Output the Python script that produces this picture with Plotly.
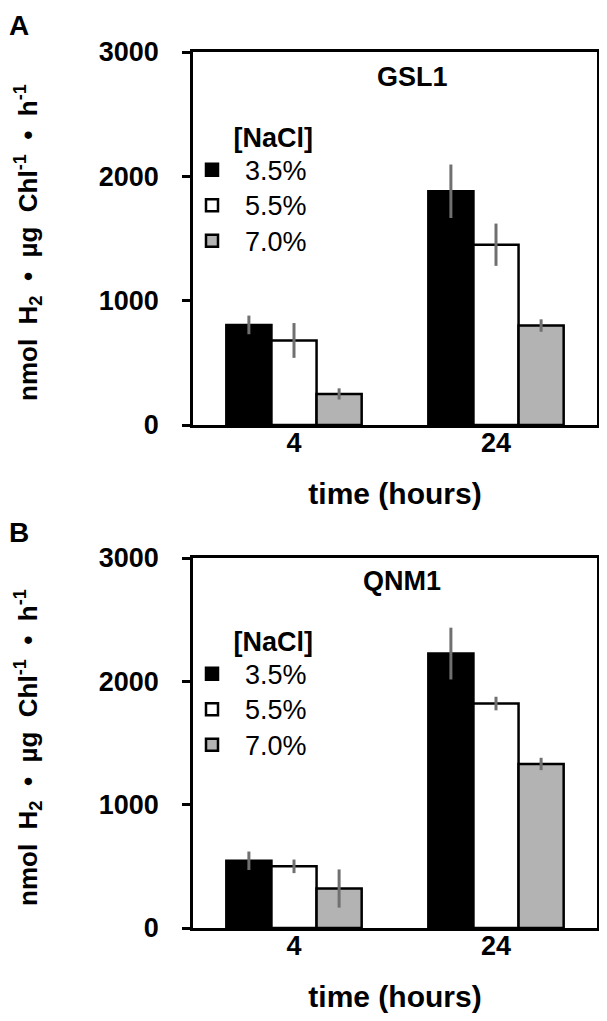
import plotly.graph_objects as go

# data
times = ["4", "24"]
salts = ["3.5%", "5.5%", "7.0%"]
colors = ["#000000", "#ffffff", "#b3b3b3"]

gsl1_vals = [[805, 1880], [680, 1450], [250, 800]]
gsl1_err = [[75, 215], [140, 170], [45, 50]]

qnm1_vals = [[545, 2225], [500, 1820], [320, 1330]]
qnm1_err = [[75, 210], [55, 55], [155, 50]]

FONT = "Liberation Sans, Arial, sans-serif"

# the page body adds an 8px margin, so the figure is made 8px smaller
W, H, OFF = 599, 1013, 8


def px(x):
    return (x - OFF) / W


def py(y):
    return 1 - (y - OFF) / H


fig = go.Figure()

panels = [("x", "y", "legend", gsl1_vals, gsl1_err),
          ("x2", "y2", "legend2", qnm1_vals, qnm1_err)]

for xa, ya, lg, vals, errs in panels:
    for i in range(3):
        fig.add_trace(go.Bar(
            x=times, y=vals[i],
            name="<span style='font-size:27px'>" + salts[i] + "</span>",
            xaxis=xa, yaxis=ya, legend=lg,
            marker=dict(color=colors[i], line=dict(color="black", width=2.5)),
            error_y=dict(type="data", array=errs[i], color="#707070",
                         thickness=3, width=0),
        ))

axis_common = dict(showline=True, linecolor="black", linewidth=2.5, mirror=True,
                   showgrid=False, zeroline=False,
                   tickfont=dict(family=FONT, size=27, color="black", weight="bold"))

xtitle = dict(text="time (hours)", standoff=26,
              font=dict(family=FONT, size=30, weight="bold"))
ytick = dict(range=[0, 3000], tickvals=[0, 1000, 2000, 3000],
             ticks="outside", ticklen=8, tickwidth=2.5, tickcolor="black",
             ticklabelstandoff=18)
legend_common = dict(xanchor="left", yanchor="top", bgcolor="rgba(0,0,0,0)",
                     font=dict(family=FONT, size=25), itemwidth=56,
                     title=dict(text="\u00a0" * 7 + "[NaCl]",
                                font=dict(family=FONT, size=27, weight="bold")),
                     tracegroupgap=0)

xdom = [px(193), px(597)]
fig.update_layout(
    width=W, height=H,
    margin=dict(l=0, r=0, t=0, b=0, autoexpand=False),
    paper_bgcolor="white", plot_bgcolor="white",
    barmode="group", bargap=0.33, bargroupgap=0,
    font=dict(family=FONT, color="black"),
    xaxis=dict(domain=xdom, anchor="y", ticks="", ticklabelstandoff=-8,
               title=xtitle, **axis_common),
    yaxis=dict(domain=[py(425), py(52)], anchor="x", **ytick, **axis_common),
    xaxis2=dict(domain=xdom, anchor="y2", ticks="", ticklabelstandoff=-8,
                title=xtitle, **axis_common),
    yaxis2=dict(domain=[py(928), py(558)], anchor="x2", **ytick, **axis_common),
    legend=dict(x=px(179), y=py(112), **legend_common),
    legend2=dict(x=px(179), y=py(616), **legend_common),
)

sp = "\u00a0" * 2
ytitle = ("nmol" + sp + "H<sub>2</sub>" + sp + "•" + sp + "µg" + sp +
          "Chl<sup>-1</sup>" + sp + "•" + sp + "h<sup>-1</sup>")

labels = [
    (ytitle, 28, 243, 26, -90, "middle"),
    (ytitle, 28, 748, 26, -90, "middle"),
    ("GSL1", 412, 77, 27, 0, "middle"),
    ("QNM1", 402, 581, 27, 0, "middle"),
    ("A", 19, 8, 28, 0, "top"),
    ("B", 19, 515, 28, 0, "top"),
]
for text, x, y, size, angle, ya in labels:
    fig.add_annotation(text=text, textangle=angle, x=px(x), y=py(y),
                       xref="paper", yref="paper", xanchor="center", yanchor=ya,
                       showarrow=False, font=dict(family=FONT, size=size, weight="bold"))

fig.write_html("out.html")
